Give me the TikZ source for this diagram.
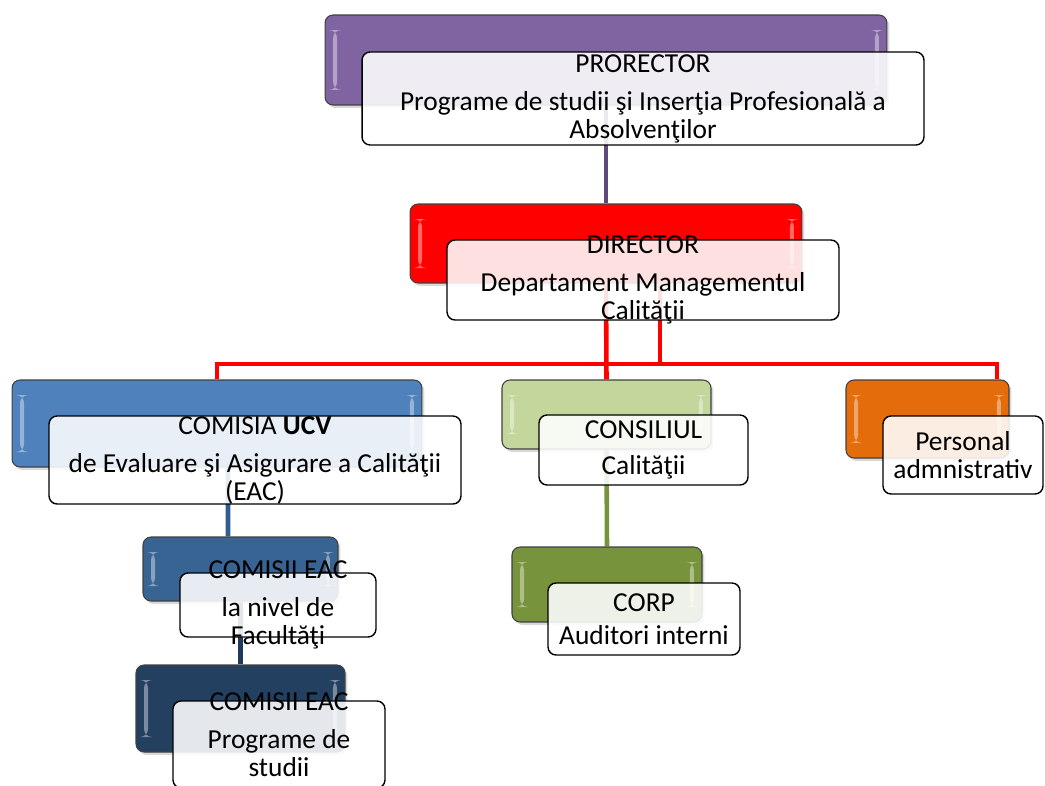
\documentclass[tikz,border=0pt]{standalone}
\usepackage{fontspec}
\setmainfont{Carlito}
\usetikzlibrary{shadows,backgrounds}
\definecolor{prpurple}{HTML}{8064A2}
\definecolor{prline}{HTML}{5F497A}
\definecolor{ucvblue}{HTML}{4F81BD}
\definecolor{ucvline}{HTML}{2F5C92}
\definecolor{facblue}{HTML}{386493}
\definecolor{navyblue}{HTML}{244061}
\definecolor{navyline}{HTML}{1F3A5A}
\definecolor{cqgreen}{HTML}{C3D69B}
\definecolor{corpgreen}{HTML}{77933C}
\definecolor{persorange}{HTML}{E46C0A}
\begin{document}
\begin{tikzpicture}[x=0.02cm,y=-0.02cm,
	cbox/.style={draw=black!75,line width=0.6pt,rounded corners=0.16cm,inner sep=0pt,
		drop shadow={opacity=0.3,shadow xshift=0.05cm,shadow yshift=-0.06cm},
		path picture={
			\fill[white,opacity=0.4] ([xshift=0.16cm,yshift=-0.3cm]path picture bounding box.north west) rectangle ([xshift=0.24cm,yshift=0.3cm]path picture bounding box.south west);
			\fill[white,opacity=0.4] ([xshift=-0.24cm,yshift=-0.3cm]path picture bounding box.north east) rectangle ([xshift=-0.16cm,yshift=0.3cm]path picture bounding box.south east);
		}},
	tbox/.style={draw=black,line width=0.8pt,rounded corners=0.16cm,fill=white,fill opacity=0.88,inner sep=0pt},
	lbl/.style={align=center,inner sep=0pt,font=\fontsize{15.6}{15.8}\selectfont},
	conn/.style={line width=2.6pt}]
\useasboundingbox (0,0) rectangle (1045,785);
%	% Prorector
	\node[cbox,fill=prpurple,minimum width=11.24cm,minimum height=1.8cm] (prorector) at (606,60) {};
	\node[tbox,minimum width=11.24cm,minimum height=1.86cm] (prorectorTxt) at (643,98.5) {};
	\node[lbl] (prorectorLbl) at (prorectorTxt.center) {PRORECTOR\\[6pt]Programe de studii şi Inserţia Profesională a\\Absolvenţilor};
%	% Director
	\node[cbox,fill=red,minimum width=7.84cm,minimum height=1.58cm] (director) at (606,243.5) {};
	\node[tbox,minimum width=7.84cm,minimum height=1.6cm] (directorTxt) at (643,280) {};
	\node[lbl] (directorLbl) at (directorTxt.center) {DIRECTOR\\[6pt]Departament Managementul\\Calităţii};
%	% Comisia UCV
	\node[cbox,fill=ucvblue,minimum width=8.2cm,minimum height=1.74cm] (ucv) at (217,423.5) {};
	\node[tbox,minimum width=8.24cm,minimum height=1.76cm] (ucvTxt) at (255,460) {};
	\node[lbl] (ucvLbl) at (ucvTxt.center) {COMISIA \textbf{UCV}\\[6pt]de Evaluare şi Asigurare a Calităţii\\(EAC)};
%	% Consiliul
	\node[cbox,fill=cqgreen,minimum width=4.18cm,minimum height=1.38cm] (consiliul) at (606.5,414.5) {};
	\node[tbox,minimum width=4.18cm,minimum height=1.4cm] (consiliulTxt) at (643.5,450) {};
	\node[lbl] (consiliulLbl) at (consiliulTxt.center) {CONSILIUL\\[5pt]Calităţii};
%	% Personal
	\node[cbox,fill=persorange,minimum width=3.26cm,minimum height=1.56cm] (personal) at (927.5,419) {};
	\node[tbox,minimum width=3.2cm,minimum height=1.56cm] (personalTxt) at (963,455) {};
	\node[lbl] (personalLbl) at (personalTxt.center) {Personal\\admnistrativ};
%	% Comisii facultati
	\node[cbox,fill=facblue,minimum width=3.9cm,minimum height=1.28cm] (facult) at (240.5,569) {};
	\node[tbox,minimum width=3.92cm,minimum height=1.28cm] (facultTxt) at (278,605) {};
	\node[lbl] (facultLbl) at (facultTxt.center) {COMISII EAC\\[6pt]la nivel de\\Facultăţi};
%	% Comisii programe
	\node[cbox,fill=navyblue,minimum width=4.18cm,minimum height=1.74cm] (programe) at (240.5,708.5) {};
	\node[tbox,minimum width=4.24cm,minimum height=1.74cm] (programeTxt) at (279,744.5) {};
	\node[lbl] (programeLbl) at ([yshift=0.2cm]programeTxt.center) {COMISII EAC\\[6pt]Programe de\\studii};
%	% Corp
	\node[cbox,fill=corpgreen,minimum width=3.8cm,minimum height=1.5cm] (corp) at (607,584.5) {};
	\node[tbox,minimum width=3.84cm,minimum height=1.44cm] (corpTxt) at (644,619) {};
	\node[lbl] (corpLbl) at (corpTxt.center) {CORP\\[3pt]Auditori interni};
%	% Connectors
	\coordinate (bus) at (606,364);
	\begin{scope}[on background layer]
	\draw[conn,prline] (prorector.south) -- (director.north);
	\draw[conn,red] (director.south) -- (consiliul.north);
	\draw[conn,red] ([xshift=1.08cm]director.south) -- ++(0,81);
	\draw[conn,red] (ucv.north) |- (bus) -| ([xshift=1.39cm]personal.north);
	\draw[conn,ucvline] ([xshift=0.22cm]ucv.south) -- ([xshift=-0.25cm]facult.north);
	\draw[conn,navyline] (facult.south) -- (programe.north);
	\draw[conn,corpgreen] (consiliul.south) -- (corp.north);
	\end{scope}
\end{tikzpicture}
\end{document}
